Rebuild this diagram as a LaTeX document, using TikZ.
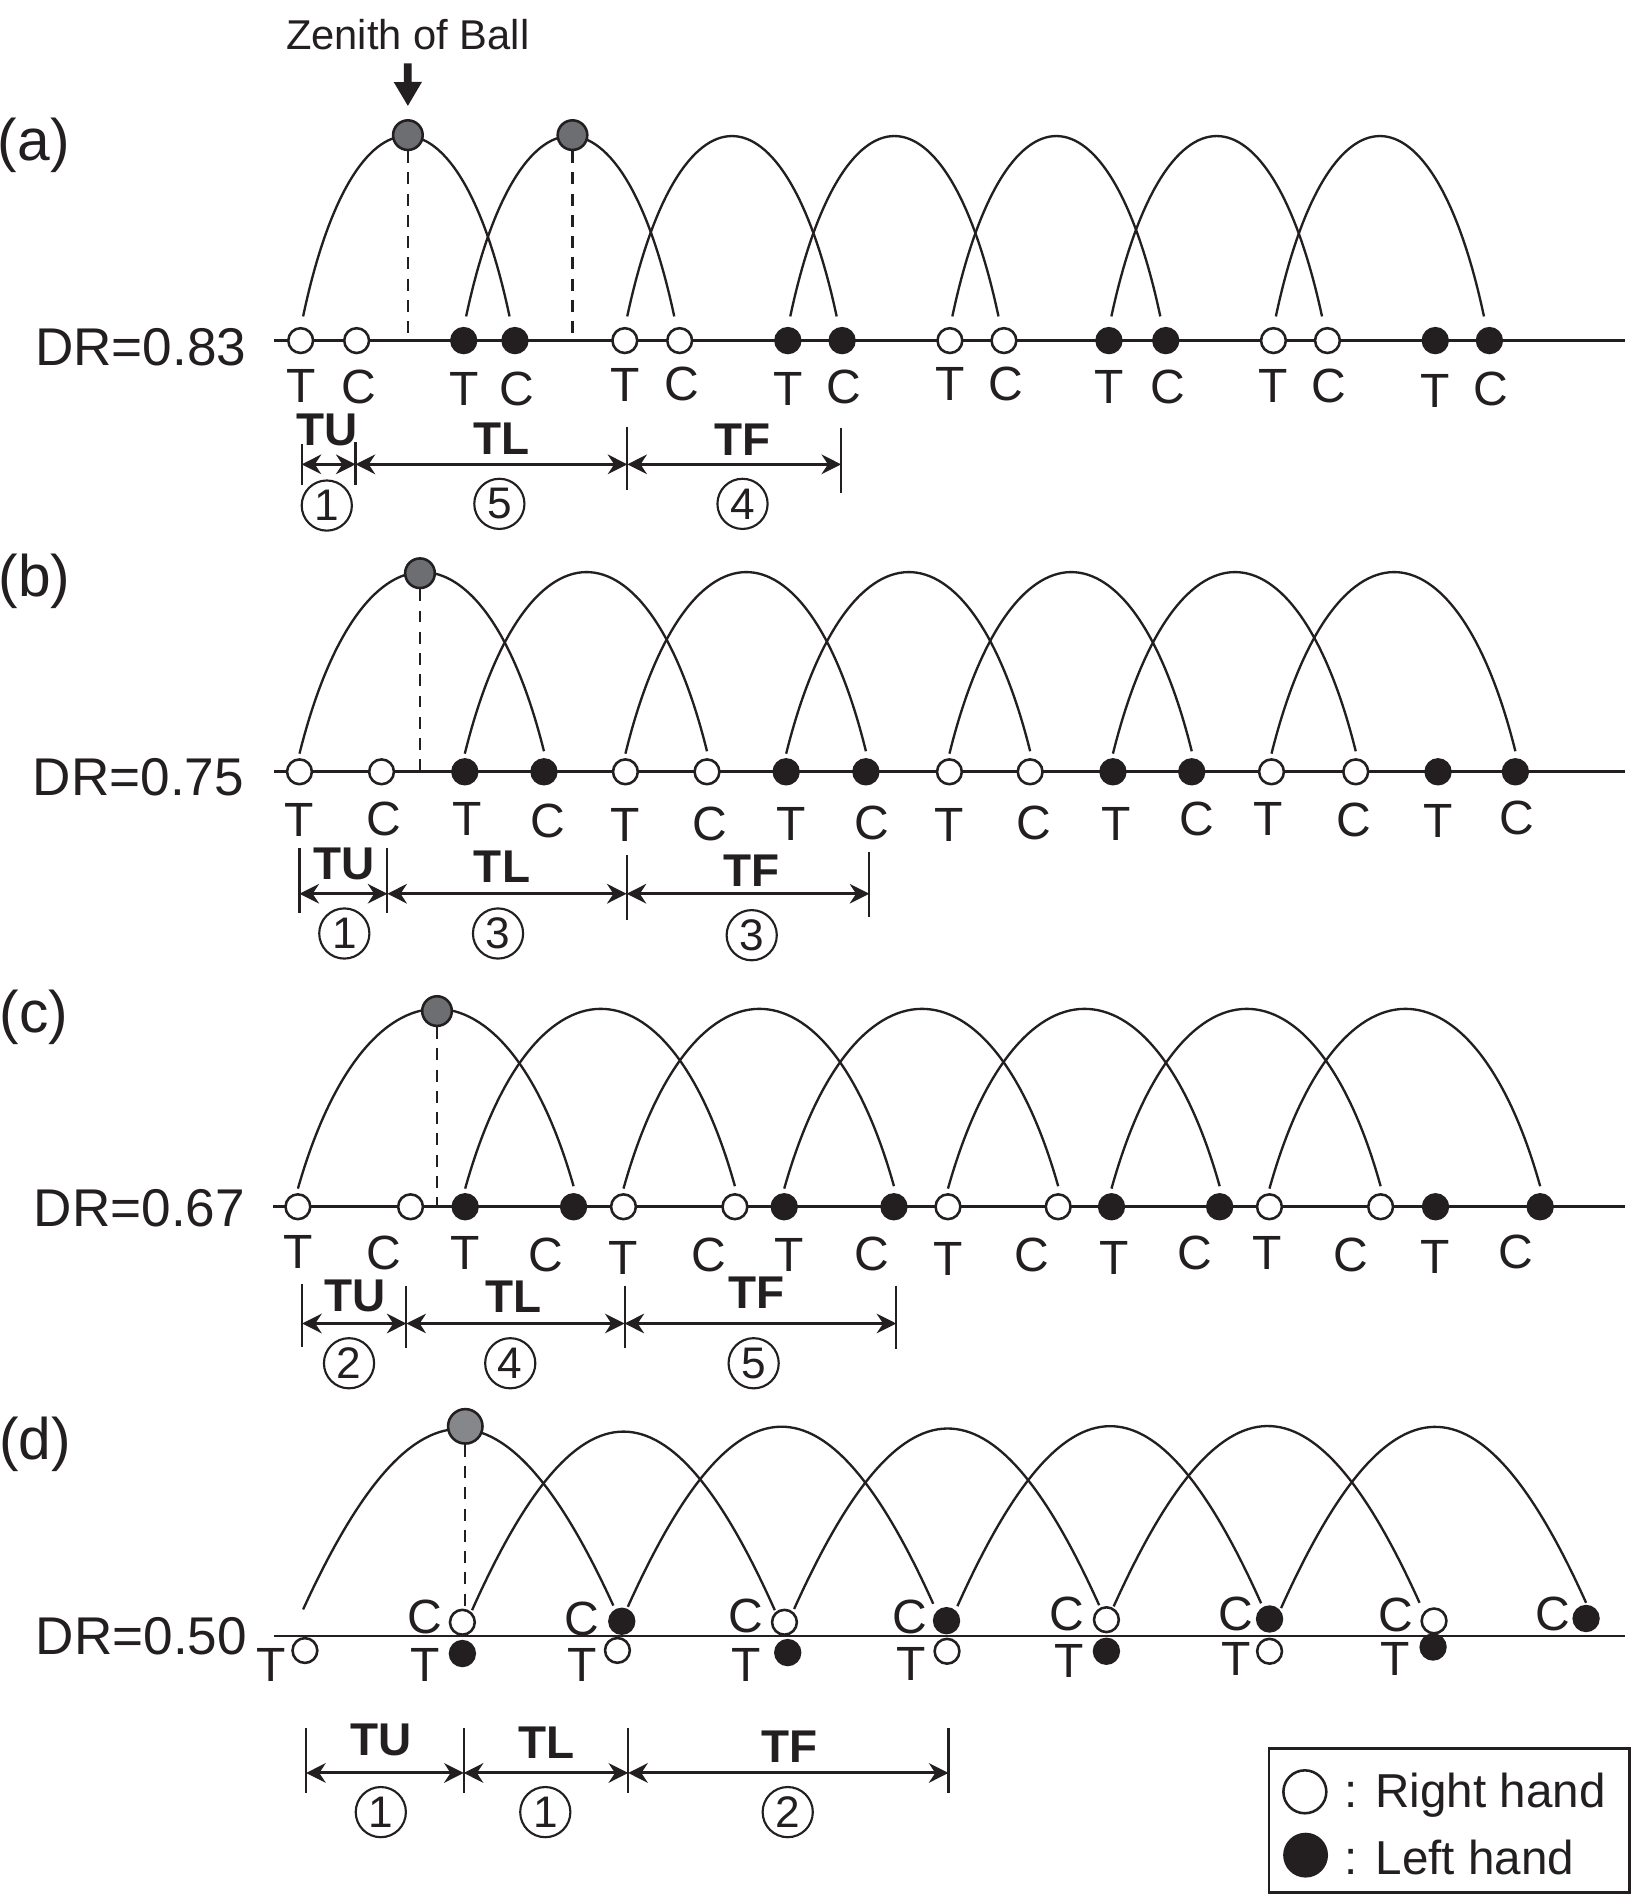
\documentclass[tikz,border=0pt]{standalone}
\usepackage{fontspec}
\setmainfont{Liberation Sans}
\usetikzlibrary{calc,arrows.meta}
\definecolor{ink}{HTML}{231F20}
\definecolor{ballA}{HTML}{6D6E71}
\definecolor{ballD}{HTML}{86878A}
\tikzset{
  hand/.style={circle, draw=ink, line width=0.6pt, minimum size=0.205cm, inner sep=0pt},
  zball/.style={circle, draw=ink, line width=0.6pt, fill=ballA, minimum size=0.245cm, inner sep=0pt},
  baseln/.style={draw=ink, line width=0.65pt},
  arcln/.style={draw=ink, line width=0.55pt},
  dsh/.style={draw=ink, line width=0.5pt, dash pattern=on 2.8pt off 2.2pt},
  lbl/.style={inner sep=0pt, text=ink, font=\fontsize{11.3}{12}\selectfont},
  drl/.style={inner sep=0pt, anchor=east, text=ink, font=\fontsize{12.5}{13}\selectfont},
  pan/.style={inner sep=0pt, text=ink, font=\fontsize{13.8}{14}\selectfont},
  seg/.style={inner sep=0pt, text=ink, font=\bfseries\fontsize{10.8}{11}\selectfont},
  num/.style={circle, draw=ink, line width=0.5pt, minimum size=0.415cm, inner sep=0pt, text=ink, font=\fontsize{10.4}{11}\selectfont},
  tickln/.style={draw=ink, line width=0.5pt},
  dimar/.style={draw=ink, line width=0.7pt, {Stealth[length=4.6pt,width=4.6pt,inset=1.5pt]}-{Stealth[length=4.6pt,width=4.6pt,inset=1.5pt]}},
  zarrow/.style={draw=ink, line width=1.8pt, -{Triangle[length=5.7pt,width=6.2pt]}},
  legtxt/.style={inner sep=0pt, anchor=base west, text=ink, font=\fontsize{11.2}{12}\selectfont},
}
% arc from node #1 (offset #3) to node #2 (offset #4), control height #5, lean fraction #6
\newcommand\ballarc[6]{%
  \draw[arcln] let \p1=($(#1)+(#3)$), \p2=($(#2)+(#4)$), \n1={#6*(\x2-\x1)/0.28453} in
    (\p1) .. controls +(\n1,-#5) and +(-\n1,-#5) .. (\p2);}
\begin{document}
\begin{tikzpicture}[x=0.01cm,y=-0.01cm]
\useasboundingbox (0,0) rectangle (1350,1568);
\fill[white] (0,0) rectangle (1350,1568);

%================ (a) =================
\node[pan] (pa) at (28,120.2) {(a)};
\node[drl] (dra) at (204.5,287.4) {DR=0.83};
\coordinate (aL) at (227.1,281.8);
\coordinate (aR) at (1344.3,281.8);
\draw[baseln] (aL) -- (aR);
\foreach \i/\tx/\cx/\ty/\cy/\f in {0/248.8/295.1/319/319.8/white,1/383.7/426.1/321.5/321.5/ink,2/517/562.4/318.5/318/white,3/651.9/696.8/321.6/320.5/ink,4/786/830.7/318/318/white,5/917.6/964.6/320.5/320.5/ink,6/1053.7/1098.4/319.7/319.7/white,7/1187.6/1232.4/323.4/321.6/ink}{
  \node[hand, fill=\f] (aT\i) at (\tx,281.8) {};
  \node[hand, fill=\f] (aC\i) at (\cx,281.8) {};
  \node[lbl] (aTt\i) at (\tx,\ty) {T};
  \node[lbl] (aCt\i) at (\cx+1.5,\cy) {C};
}
\foreach \i/\j in {0/1,1/2,2/3,3/4,4/5,5/6,6/7}{
  \ballarc{aT\i}{aC\j}{2,-20}{-4.5,-20}{199}{0.07}
}
\node[zball] (aZ1) at (337.5,111.8) {};
\node[zball] (aZ2) at (473.7,111.8) {};
\draw[dsh] (aZ1.south) -- (aZ1.south |- aL);
\draw[dsh] (aZ2.south) -- (aZ2.south |- aL);
\node[inner sep=0pt, text=ink, font=\fontsize{9.8}{10}\selectfont] (zen) at (337.4,29) {Zenith of Ball};
\draw[zarrow] ([yshift=-0.1cm]zen.south) -- ([yshift=0.106cm]aZ1.north);
% dimensions (a)
\draw[tickln] (249.6,367) -- (249.6,401);
\draw[tickln] (294.2,366) -- (294.2,401);
\draw[tickln] (519.1,353) -- (519.1,405.5);
\draw[tickln] (696,354.3) -- (696,408.3);
\coordinate (aD0) at (249.6,384.2);
\coordinate (aD1) at (294.2,384.2);
\coordinate (aD2) at (519.1,384.2);
\coordinate (aD3) at (696,384.2);
\draw[dimar] (aD0) -- (aD1);
\draw[dimar] (aD1) -- (aD2);
\draw[dimar] (aD2) -- (aD3);
\node[seg] (aTU) at (270.4,355.7) {TU};
\node[seg] (aTL) at (415.3,362.8) {TL};
\node[seg] (aTF) at (614.4,364.2) {TF};
\node[num] (aN1) at (270.4,418.3) {1};
\node[num] (aN2) at (413.2,416.9) {5};
\node[num] (aN3) at (614.4,416.9) {4};

%================ (b) =================
\node[pan] (pb) at (28.5,481) {(b)};
\node[drl] (drb) at (202.5,642.8) {DR=0.75};
\coordinate (bL) at (227,638.6);
\coordinate (bR) at (1344.3,638.6);
\draw[baseln] (bL) -- (bR);
\foreach \i/\tx/\cx/\f in {0/247.8/315.7/white,1/384.6/450.1/ink,2/517.5/585/white,3/650.5/716.5/ink,4/785.6/852.4/white,5/920.9/986.1/ink,6/1052.1/1121.8/white,7/1189.9/1253.9/ink}{
  \node[hand, fill=\f] (bT\i) at (\tx,638.6) {};
  \node[hand, fill=\f] (bC\i) at (\cx,638.6) {};
}
\foreach \i/\tx/\ty/\cx/\cy in {0/247.8/678.2/318/677.8,1/386.8/677.8/453.3/679,2/517.5/682.5/587/681.4,3/655/681.4/721.6/681,4/785.6/682.8/855.7/680.6,5/923.8/681.8/990.6/677.6,6/1049.6/677.6/1120.6/678.1,7/1189.9/678.9/1254.7/676.6}{
  \node[lbl] (bTt\i) at (\tx,\ty) {T};
  \node[lbl] (bCt\i) at (\cx,\cy) {C};
}
\foreach \i/\j in {0/1,1/2,2/3,3/4,4/5,5/6,6/7}{
  \ballarc{bT\i}{bC\j}{0,-15}{0,-17}{199}{0.07}
}
\node[zball] (bZ) at (347.5,474.3) {};
\draw[dsh] (bZ.south) -- (bZ.south |- bL);
\draw[tickln] (247.8,702) -- (247.8,755.6);
\draw[tickln] (320.5,702) -- (320.5,755.6);
\draw[tickln] (518.5,707.6) -- (518.5,761);
\draw[tickln] (719.3,704.8) -- (719.3,758.4);
\coordinate (bD0) at (247.8,739.5);
\coordinate (bD1) at (320.5,739.5);
\coordinate (bD2) at (518.5,739.5);
\coordinate (bD3) at (719.3,739.5);
\draw[dimar] (bD0) -- (bD1);
\draw[dimar] (bD1) -- (bD2);
\draw[dimar] (bD2) -- (bD3);
\node[seg] (bTU) at (284.9,714.8) {TU};
\node[seg] (bTL) at (415.4,717.5) {TL};
\node[seg] (bTF) at (622,720.2) {TF};
\node[num] (bN1) at (284.9,772.4) {1};
\node[num] (bN2) at (412.1,772.4) {3};
\node[num] (bN3) at (622,773.8) {3};

%================ (c) =================
\node[pan] (pc) at (28,841.5) {(c)};
\node[drl] (drc) at (203.5,1000) {DR=0.67};
\coordinate (cL) at (225.7,998.5);
\coordinate (cR) at (1344.3,998.5);
\draw[baseln] (cL) -- (cR);
\foreach \i/\tx/\cx/\f in {0/246.5/339.7/white,1/384.9/474.6/ink,2/515.9/608.1/white,3/648.9/739.7/ink,4/784.4/875.6/white,5/919.7/1009.2/ink,6/1050.4/1142.4/white,7/1187.8/1274.4/ink}{
  \node[hand, fill=\f] (cT\i) at (\tx,998.5) {};
  \node[hand, fill=\f] (cC\i) at (\cx,998.5) {};
}
\foreach \i/\tx/\ty/\cx/\cy in {0/246.5/1036.3/317.9/1037,1/384.9/1037/451.3/1038,2/515.9/1040.5/586.3/1038.5,3/652.7/1038.5/721.6/1037.5,4/784.4/1041.8/853.7/1038.8,5/921.7/1040.8/989/1036.7,6/1048.8/1037/1117.7/1038.8,7/1187.8/1040.4/1253.9/1035.6}{
  \node[lbl] (cTt\i) at (\tx,\ty) {T};
  \node[lbl] (cCt\i) at (\cx,\cy) {C};
}
\foreach \i/\j in {0/1,1/2,2/3,3/4,4/5,5/6,6/7}{
  \ballarc{cT\i}{cC\j}{0,-15}{0,-17}{197}{0.07}
}
\node[zball] (cZ) at (361.6,836.6) {};
\draw[dsh] (cZ.south) -- (cZ.south |- cL);
\draw[tickln] (250,1062.3) -- (250,1114.3);
\draw[tickln] (336.3,1063.7) -- (336.3,1115.7);
\draw[tickln] (516.8,1063.7) -- (516.8,1115.7);
\draw[tickln] (741.6,1063.7) -- (741.6,1116.5);
\coordinate (cD0) at (250,1095.1);
\coordinate (cD1) at (336.3,1095.1);
\coordinate (cD2) at (516.8,1095.1);
\coordinate (cD3) at (741.6,1095.1);
\draw[dimar] (cD0) -- (cD1);
\draw[dimar] (cD1) -- (cD2);
\draw[dimar] (cD2) -- (cD3);
\node[seg] (cTU) at (293.6,1071.9) {TU};
\node[seg] (cTL) at (424.7,1073.3) {TL};
\node[seg] (cTF) at (626,1070) {TF};
\node[num] (cN1) at (288.8,1128) {2};
\node[num] (cN2) at (422.2,1128) {4};
\node[num] (cN3) at (623.6,1128) {5};

%================ (d) =================
\node[pan] (pd) at (29,1195) {(d)};
\node[drl] (drd) at (205,1354) {DR=0.50};
\coordinate (dL) at (226.9,1353.6);
\coordinate (dR) at (1344.3,1353.6);
\draw[baseln] (dL) -- (dR);
\node[hand, fill=white] (dT0) at (252.3,1365.7) {};
\node[hand, fill=white] (dC1) at (382.6,1342.3) {};
\node[hand, fill=ink]   (dT1) at (382.6,1368.2) {};
\node[hand, fill=ink]   (dC2) at (514.5,1341.5) {};
\node[hand, fill=white] (dT2) at (510.9,1365.6) {};
\node[hand, fill=white] (dC3) at (649.1,1342.3) {};
\node[hand, fill=ink]   (dT3) at (651.8,1367.4) {};
\node[hand, fill=ink]   (dC4) at (783.2,1341) {};
\node[hand, fill=white] (dT4) at (783.6,1366.3) {};
\node[hand, fill=white] (dC5) at (915.5,1340.2) {};
\node[hand, fill=ink]   (dT5) at (915.5,1366.3) {};
\node[hand, fill=ink]   (dC6) at (1050.5,1339.6) {};
\node[hand, fill=white] (dT6) at (1050.5,1366.3) {};
\node[hand, fill=white] (dC7) at (1186.6,1341.2) {};
\node[hand, fill=ink]   (dT7) at (1185.8,1362.8) {};
\node[hand, fill=ink]   (dC8) at (1312.4,1339.2) {};
\foreach \n/\x/\y in {0/224.2/1377.5,1/351.6/1377.5,2/481.3/1377.5,3/617.5/1377.5,4/754/1376.5,5/884.6/1374.3,6/1022.8/1373,7/1154.8/1373}{
  \node[lbl] (dTt\n) at (\x,\y) {T};
}
\foreach \n/\x/\y in {1/351.6/1338,2/481.3/1339.3,3/617.5/1336.8,4/753/1338,5/882.6/1335.8,6/1022.8/1335.8,7/1154.8/1336.5,8/1284.8/1335.8}{
  \node[lbl] (dCt\n) at (\x,\y) {C};
}
\ballarc{dT0}{dC2}{-1.5,-34}{-7,-13}{197}{0.1}
\ballarc{dC1}{dC3}{8,-10}{-8,-10}{197}{0.1}
\ballarc{dC2}{dC4}{5,-12}{-11,-14}{197}{0.1}
\ballarc{dC3}{dC5}{8,-11}{-6,-12}{197}{0.1}
\ballarc{dC4}{dC6}{9,-12}{-7,-13}{197}{0.1}
\ballarc{dC5}{dC7}{6,-11}{-12,-15}{197}{0.1}
\ballarc{dC6}{dC8}{9.5,-9}{0,-13}{197}{0.1}
\node[zball, fill=ballD, minimum size=0.285cm] (dZ) at (385,1180.2) {};
\draw[dsh] (dZ.south) -- (dZ.south |- dC1.north);
\draw[tickln] (253.3,1429.7) -- (253.3,1483.7);
\draw[tickln] (383.7,1429.7) -- (383.7,1483.7);
\draw[tickln] (519.8,1429.7) -- (519.8,1483.7);
\draw[tickln] (784.8,1429.7) -- (784.8,1483.7);
\coordinate (dD0) at (253.3,1467);
\coordinate (dD1) at (383.7,1467);
\coordinate (dD2) at (519.8,1467);
\coordinate (dD3) at (784.8,1467);
\draw[dimar] (dD0) -- (dD1);
\draw[dimar] (dD1) -- (dD2);
\draw[dimar] (dD2) -- (dD3);
\node[seg] (dTU) at (315.6,1439.3) {TU};
\node[seg] (dTL) at (452.3,1442.1) {TL};
\node[seg] (dTF) at (653.3,1444.9) {TF};
\node[num] (dN1) at (315.1,1499.4) {1};
\node[num] (dN2) at (451.2,1499.4) {1};
\node[num] (dN3) at (651.8,1499.4) {2};

%================ legend =================
\draw[draw=ink, line width=0.65pt] (1050,1447) rectangle (1348.4,1565.6);
\node[hand, fill=white, minimum size=0.355cm] (legR) at (1079.7,1482.6) {};
\node[hand, fill=ink, minimum size=0.35cm] (legL) at (1080.3,1535) {};
\node[legtxt] (legRt) at (1112,1495.8) {: Right hand};
\node[legtxt] (legLt) at (1112,1551) {: Left hand};
\end{tikzpicture}
\end{document}
